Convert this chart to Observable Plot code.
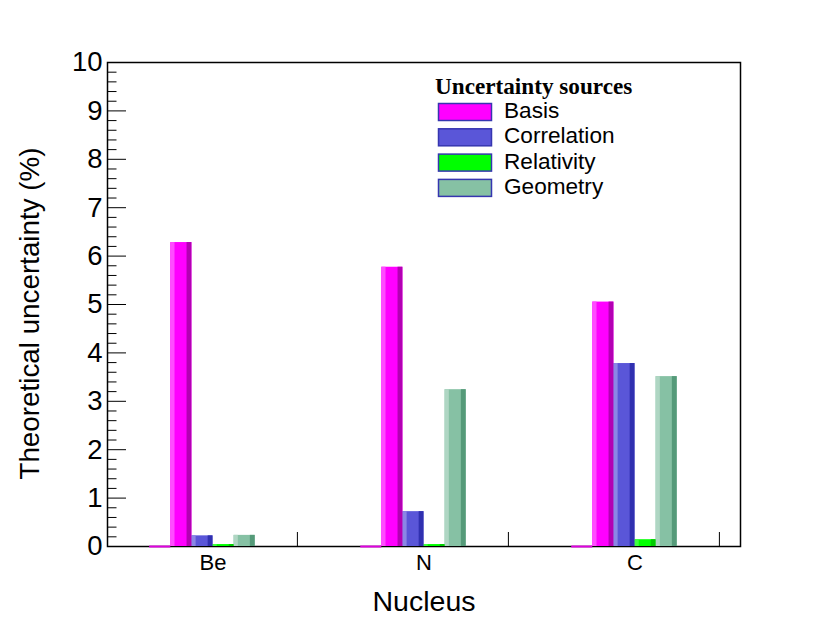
<!DOCTYPE html>
<html>
<head>
<meta charset="utf-8">
<script src="https://cdn.jsdelivr.net/npm/d3@7"></script>
<script src="https://cdn.jsdelivr.net/npm/@observablehq/plot@0.6"></script>
<style>
  body { margin: 0; background: #fff; }
  #wrap { position: relative; width: 822px; height: 628px; }
  #wrap > svg { position: absolute; left: 0; top: 0; }
</style>
</head>
<body>
<div id="wrap"></div>
<script>
// ---- data ----
const nuclei = ["Be", "N", "C"];
const sources = ["Basis", "Correlation", "Relativity", "Geometry"];
const basis = [6.28, 5.77, 5.05];
const correlation = [0.22, 0.72, 3.78];
const relativity = [0.04, 0.04, 0.14];
const geometry = [0.23, 3.24, 3.51];
const emptySeries = [0, 0, 0];
const yTicks = [0, 1, 2, 3, 4, 5, 6, 7, 8, 9, 10];
const xTickPos = [0.9, 1.9, 2.9];

// ---- style ----
const fills  = ["#ff00ff", "#5a56d8", "#00ff00", "#86c1a4"];
const lights = ["#ff4dff", "#8a87e6", "#40ff40", "#afd6c3"];
const darks  = ["#b300b3", "#3030b0", "#00cc00", "#559a79"];
const W = 822, H = 628, mL = 107, mR = 82, mT = 62, mB = 82;
const barOffset = 0.2, barWidth = 0.1;
const binPx = (W - mL - mR) / 3;
const yPxUnit = 10 / (H - mT - mB);

const seriesValues = [basis, correlation, relativity, geometry];
const rows = [];
nuclei.forEach((n, i) => {
  sources.forEach((s, k) => {
    const x1 = i + barOffset + (k + 1) * barWidth;
    rows.push({nucleus: n, source: s, k, value: seriesValues[k][i], x1, x2: x1 + barWidth});
  });
});
const emptyRows = nuclei.map((n, i) => ({nucleus: n, value: emptySeries[i], x1: i + barOffset, x2: i + barOffset + barWidth}));
const yMinor = d3.range(0, 10.001, 0.2).filter(v => Math.abs(v - Math.round(v)) > 1e-6);

const plot = Plot.plot({
  width: W, height: H,
  marginLeft: mL, marginRight: mR, marginTop: mT, marginBottom: mB,
  x: {domain: [0, 3], axis: null},
  y: {domain: [0, 10], axis: null},
  style: {fontFamily: "'Liberation Sans', Arial, sans-serif", background: "white", color: "black"},
  marks: [
    Plot.frame({stroke: "black", strokeWidth: 1.5}),
    // bars: main body
    Plot.rectY(rows, {x1: "x1", x2: "x2", y1: 0, y2: "value", fill: d => fills[d.k]}),
    // light left strip
    Plot.rectY(rows, {x1: "x1", x2: d => d.x1 + barWidth * 0.2, y1: 0, y2: "value", fill: d => lights[d.k]}),
    // dark right strip
    Plot.rectY(rows, {x1: d => d.x2 - barWidth * 0.23, x2: "x2", y1: 0, y2: "value", fill: d => darks[d.k]}),
    // zero-height leading bars
    Plot.ruleY(emptyRows, {y: "value", x1: "x1", x2: "x2", stroke: "#e000e0", strokeWidth: 2}),
    // y ticks
    Plot.ruleY(yTicks, {y: d => d, x1: 0, x2: 19 / binPx, stroke: "black", strokeWidth: 1}),
    Plot.ruleY(yMinor, {y: d => d, x1: 0, x2: 9.5 / binPx, stroke: "black", strokeWidth: 1}),
    Plot.axisY(yTicks, {anchor: "left", tickSize: 0, tickPadding: 5, fontSize: 27.5, label: null, tickFormat: d => String(d)}),
    // x ticks
    Plot.ruleX(xTickPos, {x: d => d, y1: 0, y2: 14 * yPxUnit, stroke: "black", strokeWidth: 1}),
    Plot.text(nuclei, {x: (d, i) => i + 0.5, y: 0, dy: 16, text: d => d, fontSize: 22, lineAnchor: "middle", fill: "black"}),
    // axis titles
    Plot.text(["Theoretical uncertainty (%)"], {frameAnchor: "left", dx: -77, dy: 9, rotate: -90, text: d => d, textAnchor: "middle", lineAnchor: "middle", fontSize: 27.8, fill: "black"}),
    Plot.text(["Nucleus"], {frameAnchor: "bottom", dy: 55, text: d => d, textAnchor: "middle", lineAnchor: "middle", fontSize: 28.5, fill: "black"})
  ]
});
document.getElementById("wrap").appendChild(plot);

// ---- legend overlay ----
const leg = d3.select("#wrap").append("svg")
  .attr("width", W).attr("height", H)
  .style("pointer-events", "none");
leg.append("text")
  .attr("x", 435).attr("y", 94)
  .attr("font-family", "'Liberation Serif', 'Times New Roman', serif")
  .attr("font-weight", "bold").attr("font-size", 23.2)
  .text("Uncertainty sources");
sources.forEach((s, k) => {
  const top = 103.5 + k * 25.3;
  leg.append("rect")
    .attr("x", 438.5).attr("y", top).attr("width", 53).attr("height", 17)
    .attr("fill", fills[k]).attr("stroke", "#3636b0").attr("stroke-width", 1.5);
  leg.append("text")
    .attr("x", 504).attr("y", top + 7)
    .attr("dominant-baseline", "central")
    .attr("font-family", "'Liberation Sans', Arial, sans-serif")
    .attr("font-size", 22.6)
    .text(s);
});
</script>
</body>
</html>
